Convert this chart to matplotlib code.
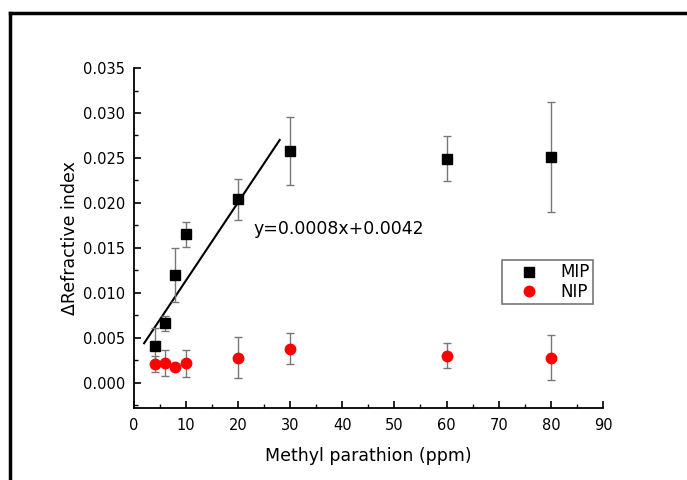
import numpy as np
import matplotlib
matplotlib.use("Agg")
import matplotlib.pyplot as plt
from matplotlib.lines import Line2D
from matplotlib.ticker import MultipleLocator, FormatStrFormatter

plt.rcParams['font.family'] = ['DejaVu Sans']

# concentrations (ppm)
conc = [4, 6, 8, 10, 20, 30, 60, 80]

mip_values = [0.0041, 0.0066, 0.0120, 0.0165, 0.0204, 0.0258, 0.0249, 0.0251]
mip_errors = [0.0020, 0.0008, 0.0030, 0.0014, 0.0023, 0.0038, 0.0025, 0.0061]

nip_values = [0.0021, 0.0022, 0.0018, 0.0022, 0.0028, 0.0038, 0.0030, 0.0028]
nip_errors = [0.0009, 0.0014, 0.0003, 0.0015, 0.0023, 0.0017, 0.0014, 0.0025]

# fitted line as drawn
fit_x = [2, 28]
fit_y = [0.0044, 0.0270]
fit_label = "y=0.0008x+0.0042"

fig = plt.figure(figsize=(6.87, 4.8), dpi=100)
ax = fig.add_axes([0.1946, 0.15, 0.6831, 0.7083])

ax.errorbar(conc, mip_values, yerr=mip_errors, fmt='s', color='black', markersize=7,
			ecolor='#777777', elinewidth=1, capsize=3, capthick=1, label='MIP', zorder=3)
ax.errorbar(conc, nip_values, yerr=nip_errors, fmt='o', color='red', markersize=7.5,
			ecolor='#777777', elinewidth=1, capsize=3, capthick=1, label='NIP', zorder=3)
ax.plot(fit_x, fit_y, color='black', linewidth=1.5, zorder=2)
ax.text(22.9, 0.0171, fit_label, fontsize=12.5, va='center', ha='left')

ax.set_xlim(0, 90)
ax.set_ylim(-0.0028, 0.035)
ax.xaxis.set_major_locator(MultipleLocator(10))
ax.xaxis.set_minor_locator(MultipleLocator(5))
ax.yaxis.set_major_locator(MultipleLocator(0.005))
ax.yaxis.set_minor_locator(MultipleLocator(0.0025))
ax.yaxis.set_major_formatter(FormatStrFormatter('%.3f'))
ax.tick_params(which='major', direction='in', length=5, width=1.2, labelsize=10.5)
ax.tick_params(axis='x', which='major', pad=7)
ax.tick_params(axis='y', which='major', pad=6)
ax.tick_params(which='minor', direction='in', length=3, width=1)
ax.spines['top'].set_visible(False)
ax.spines['right'].set_visible(False)
ax.spines['left'].set_linewidth(1.3)
ax.spines['bottom'].set_linewidth(1.3)

ax.set_xlabel('Methyl parathion (ppm)', fontsize=12.5, labelpad=10)
ax.set_ylabel('\u0394Refractive index', fontsize=12.5, labelpad=3)

handles = [Line2D([], [], marker='s', color='black', linestyle='none', markersize=7),
		   Line2D([], [], marker='o', color='red', linestyle='none', markersize=7.5)]
leg = ax.legend(handles, ['MIP', 'NIP'], loc='upper left', bbox_to_anchor=(0.785, 0.435),
				borderaxespad=0, fontsize=12, fancybox=False, framealpha=1, edgecolor='#777777',
				handlelength=2.8, borderpad=0.2, labelspacing=0.1, handletextpad=0.5)
leg.get_frame().set_linewidth(1.2)

# outer frame
fig.add_artist(Line2D([0.0146, 0.0146], [0, 0.973], color='black', linewidth=2.5, transform=fig.transFigure))
fig.add_artist(Line2D([0.0146, 1.0], [0.973, 0.973], color='black', linewidth=2.5, transform=fig.transFigure))

fig.savefig('out.png', dpi=100)
